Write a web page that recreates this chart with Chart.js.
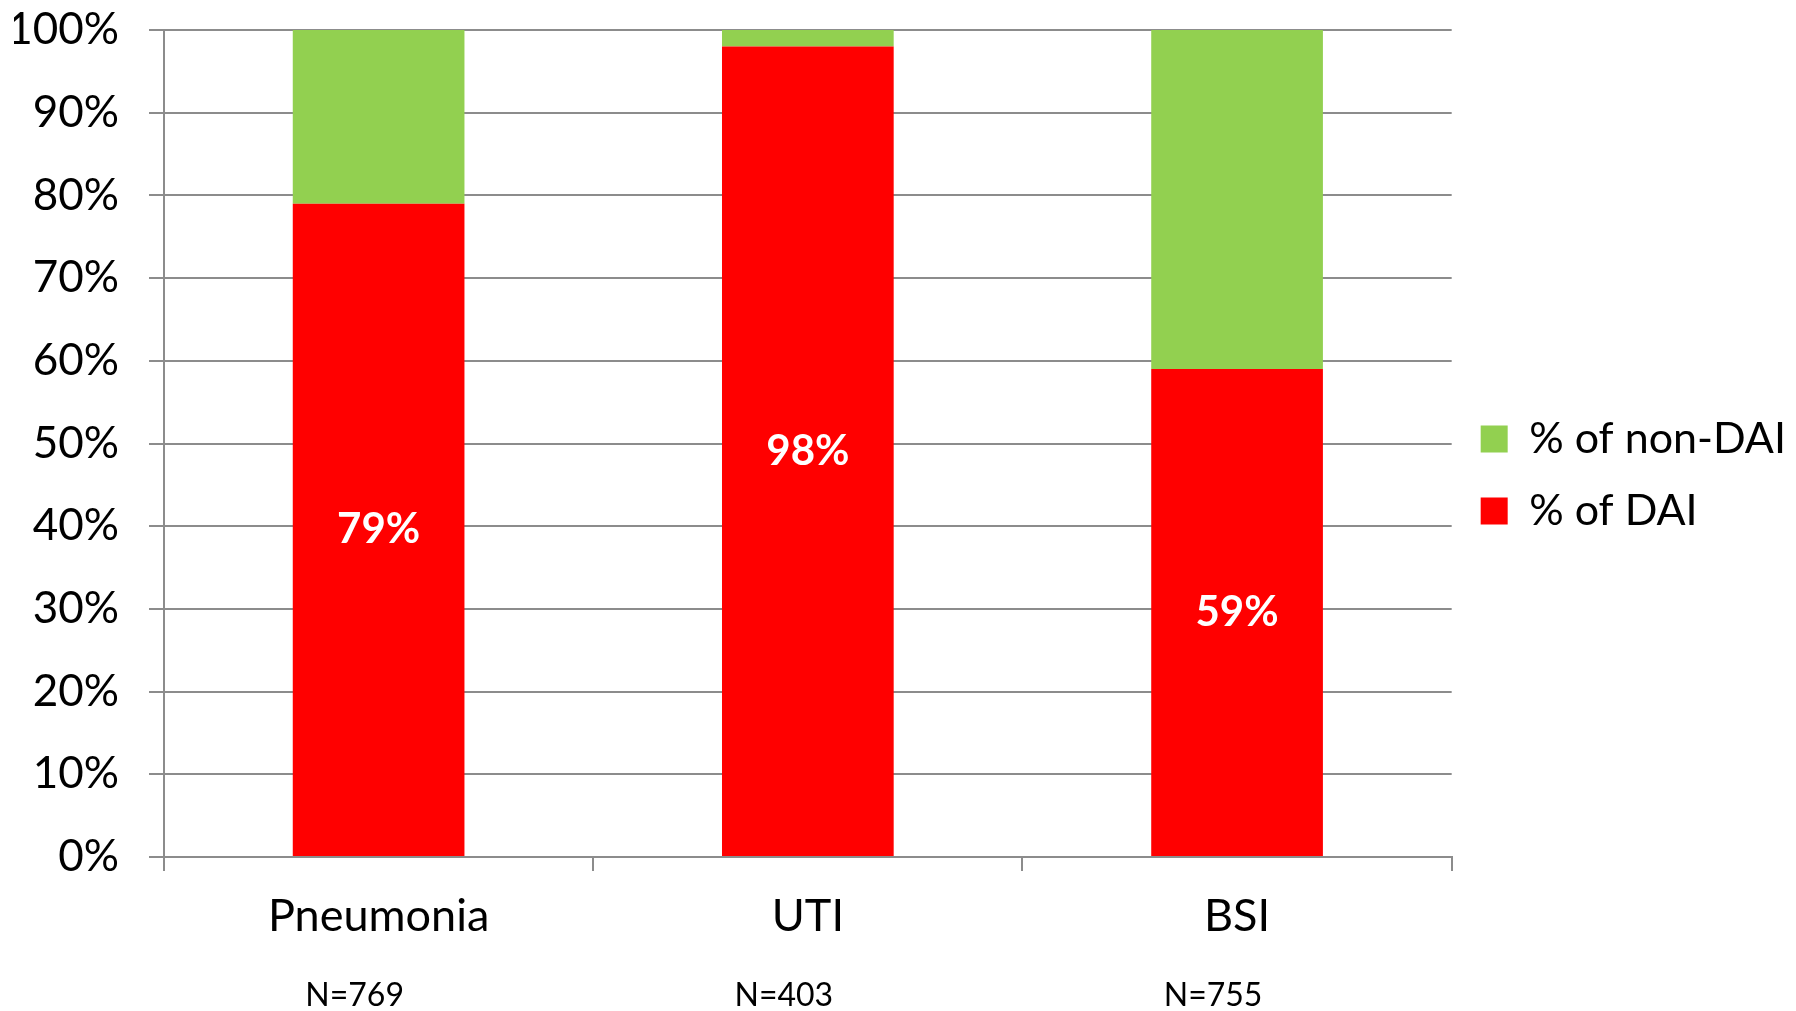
<!DOCTYPE html>
<html>
<head>
<meta charset="utf-8">
<script src="https://cdn.jsdelivr.net/npm/chart.js@4"></script>
<style>
  html, body { margin: 0; padding: 0; background: #fff; }
  #wrap { width: 1796px; height: 1011px; }
</style>
</head>
<body>
<div id="wrap"><canvas id="chart"></canvas></div>
<script>
// Chart data
const categories = ['Pneumonia', 'UTI', 'BSI'];
const sampleSizes = ['N=769', 'N=403', 'N=755'];
const daiValues = [79, 98, 59];
const nonDaiValues = [21, 2, 41];
const seriesNames = ['% of DAI', '% of non-DAI'];
const yTicks = [0, 10, 20, 30, 40, 50, 60, 70, 80, 90, 100];

const fontFamily = 'Lato, "Open Sans", sans-serif';
const gridColor = '#8c8c8c';

// White value labels centred in the DAI bars
const valueLabels = {
    id: 'valueLabels',
    afterDatasetsDraw(chart) {
        const ctx = chart.ctx;
        const meta = chart.getDatasetMeta(0);
        ctx.save();
        ctx.fillStyle = '#fff';
        ctx.font = 'bold 42px ' + fontFamily;
        ctx.textAlign = 'center';
        ctx.textBaseline = 'middle';
        meta.data.forEach((bar, i) => {
            const y = (bar.y + bar.base) / 2;
            ctx.fillText(daiValues[i] + '%', bar.x, y);
        });
        ctx.restore();
    }
};

// N= labels under the category names
const sizeLabels = {
    id: 'sizeLabels',
    afterDraw(chart) {
        const ctx = chart.ctx;
        const xScale = chart.scales.x;
        ctx.save();
        ctx.fillStyle = '#000';
        ctx.font = '32px ' + fontFamily;
        ctx.textAlign = 'center';
        ctx.textBaseline = 'middle';
        sampleSizes.forEach((txt, i) => {
            ctx.fillText(txt, xScale.getPixelForValue(i) - 24, 996);
        });
        ctx.restore();
    }
};

const ctx = document.getElementById('chart').getContext('2d');

new Chart(ctx, {
    type: 'bar',
    data: {
        labels: categories,
        datasets: [
            {
                label: seriesNames[0],
                data: daiValues,
                backgroundColor: '#ff0000',
                categoryPercentage: 1,
                barPercentage: 0.4
            },
            {
                label: seriesNames[1],
                data: nonDaiValues,
                backgroundColor: '#92d050',
                categoryPercentage: 1,
                barPercentage: 0.4
            }
        ]
    },
    options: {
        responsive: true,
        maintainAspectRatio: false,
        animation: false,
        layout: {
            autoPadding: false,
            padding: { top: 30, left: 14, right: 0, bottom: 50 }
        },
        scales: {
            x: {
                stacked: true,
                grid: {
                    offset: true,
                    drawOnChartArea: false,
                    drawTicks: true,
                    tickLength: 14,
                    color: gridColor,
                    lineWidth: 2
                },
                border: { color: gridColor, width: 2 },
                ticks: {
                    color: '#000',
                    padding: 18,
                    font: { family: fontFamily, size: 45 }
                }
            },
            y: {
                stacked: true,
                min: 0,
                max: 100,
                afterBuildTicks(scale) {
                    scale.ticks = yTicks.map(v => ({ value: v }));
                },
                afterFit(scale) {
                    scale.width = 150;
                    scale.paddingTop = 0;
                    scale.paddingBottom = 0;
                },
                grid: {
                    color: gridColor,
                    lineWidth: 2,
                    tickLength: 15
                },
                border: { color: gridColor, width: 2 },
                ticks: {
                    color: '#000',
                    padding: 30,
                    font: { family: fontFamily, size: 44 },
                    callback: v => v + '%'
                }
            }
        },
        plugins: {
            legend: {
                position: 'right',
                align: 'start',
                reverse: true,
                title: {
                    display: true,
                    text: ' ',
                    padding: 172,
                    font: { size: 12 }
                },
                labels: {
                    color: '#000',
                    boxWidth: 27,
                    boxHeight: 27,
                    padding: 29,
                    font: { family: fontFamily, size: 43 }
                }
            },
            tooltip: { enabled: false }
        }
    },
    plugins: [valueLabels, sizeLabels]
});
</script>
</body>
</html>
